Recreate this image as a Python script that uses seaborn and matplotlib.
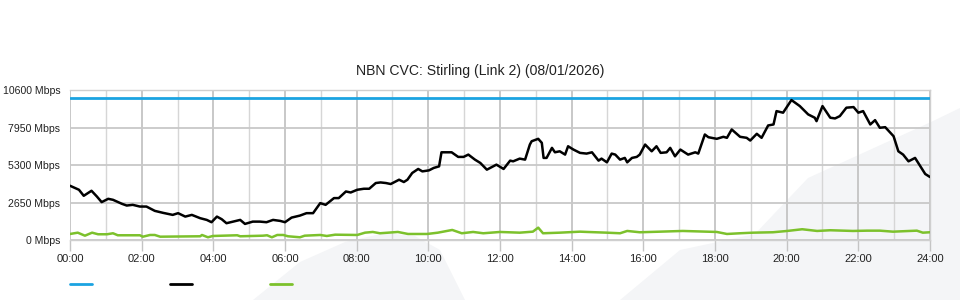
import matplotlib
matplotlib.use("Agg")
import matplotlib.pyplot as plt
from matplotlib.patches import Polygon
from matplotlib.ticker import MultipleLocator
from matplotlib.lines import Line2D
import seaborn as sns
import pandas as pd

# ---- data ----
title = "NBN CVC: Stirling (Link 2) (08/01/2026)"
y_ticks = [0, 2650, 5300, 7950, 10600]
y_tick_labels = ["0 Mbps", "2650 Mbps", "5300 Mbps", "7950 Mbps", "10600 Mbps"]
x_tick_labels = ["00:00", "02:00", "04:00", "06:00", "08:00", "10:00", "12:00",
                 "14:00", "16:00", "18:00", "20:00", "22:00", "24:00"]

capacity_min = [0, 1440]
capacity_mbps = [10000, 10000]

down_min = [0, 15, 23, 36, 45, 53, 64, 72, 87, 95, 105, 117, 128, 142, 156, 172, 181, 193,
            204, 218, 229, 237, 246, 254, 262, 273, 285, 293, 306, 318, 329, 340, 352, 360,
            371, 385, 396, 407, 419, 428, 442, 450, 462, 470, 481, 492, 501, 512, 520, 529,
            537, 551, 559, 565, 573, 583, 590, 601, 609, 618, 622, 639, 650, 659, 667, 678,
            687, 698, 714, 726, 737, 742, 753, 762, 770, 773, 784, 790, 793, 798, 807, 812,
            820, 829, 834, 843, 854, 865, 874, 885, 890, 899, 907, 913, 921, 929, 933, 941,
            949, 954, 963, 974, 982, 989, 999, 1005, 1013, 1022, 1035, 1047, 1052, 1063,
            1069, 1083, 1094, 1100, 1108, 1122, 1133, 1139, 1150, 1158, 1169, 1178, 1183,
            1194, 1208, 1222, 1236, 1247, 1250, 1260, 1273, 1281, 1289, 1300, 1312, 1320,
            1328, 1340, 1348, 1356, 1365, 1379, 1387, 1395, 1404, 1415, 1432, 1440]
down_mbps = [3834, 3550, 3124, 3479, 3074, 2677, 2911, 2840, 2556, 2435, 2485, 2364, 2364,
             2059, 1917, 1775, 1896, 1654, 1775, 1541, 1420, 1257, 1654, 1470, 1186, 1299,
             1420, 1136, 1299, 1299, 1257, 1420, 1349, 1257, 1583, 1725, 1896, 1896, 2606,
             2485, 2961, 2961, 3429, 3358, 3550, 3621, 3621, 4026, 4068, 4026, 3955, 4260,
             4097, 4260, 4736, 5020, 4849, 4920, 5091, 5204, 6198, 6198, 5872, 5872, 6035,
             5680, 5446, 4970, 5325, 5020, 5609, 5559, 5751, 5680, 6745, 6979, 7150, 6866,
             5801, 5801, 6511, 6198, 6269, 6035, 6624, 6390, 6156, 6106, 6198, 5609, 5751,
             5488, 6106, 6035, 5680, 5801, 5488, 5801, 5872, 6035, 6745, 6269, 6624, 6156,
             6198, 6511, 5914, 6390, 6035, 6198, 6106, 7455, 7263, 7150, 7292, 7221, 7810,
             7292, 7221, 7029, 7505, 7221, 8094, 8165, 9109, 8996, 9890, 9464, 8875, 8641,
             8399, 9464, 8641, 8591, 8754, 9350, 9393, 8996, 9109, 8165, 8470, 7931, 7973,
             7334, 6269, 6035, 5559, 5801, 4665, 4452]

up_min = [0, 13, 25, 37, 47, 62, 72, 80, 105, 117, 122, 134, 142, 151, 218, 221, 231, 239,
          280, 285, 323, 330, 338, 347, 357, 365, 385, 393, 419, 430, 444, 481, 494, 507,
          519, 549, 566, 598, 616, 640, 656, 675, 692, 720, 753, 775, 784, 792, 820, 854,
          866, 899, 921, 933, 954, 988, 1026, 1083, 1100, 1122, 1144, 1177, 1201, 1226,
          1251, 1273, 1311, 1335, 1356, 1378, 1418, 1428, 1440]
up_mbps = [426, 518, 305, 518, 405, 405, 476, 334, 334, 334, 234, 355, 355, 234, 263, 355,
           192, 284, 334, 263, 305, 334, 192, 355, 355, 263, 192, 305, 355, 284, 376, 355,
           518, 568, 476, 568, 426, 426, 518, 710, 476, 568, 476, 568, 518, 589, 873, 476,
           518, 589, 568, 518, 476, 639, 547, 589, 639, 568, 426, 476, 518, 547, 639, 760,
           639, 689, 639, 660, 660, 589, 660, 518, 547]

# ---- style ----
C_BLUE = "#1BA3E1"
C_BLACK = "#000000"
C_GREEN = "#7CC12C"
C_SHAPE = "#f4f5f7"

sns.set_theme(style="white")
plt.rcParams["font.family"] = ["Liberation Sans", "DejaVu Sans"]

fig = plt.figure(figsize=(9.6, 3.0), dpi=100)
fig.patch.set_facecolor("white")

# decorative background swooshes (figure pixel coords -> fraction)
def fp(pts):
    return [(x / 960, 1 - y / 300) for x, y in pts]

fig.patches.append(Polygon(fp([(253, 300), (300, 262), (345, 242), (385, 233), (415, 236),
                               (440, 250), (465, 300)]),
                           closed=True, transform=fig.transFigure, facecolor=C_SHAPE,
                           edgecolor="none", zorder=-5))
fig.patches.append(Polygon(fp([(620, 300), (680, 250), (755, 234), (808, 178), (931, 122),
                               (960, 108), (960, 300)]),
                           closed=True, transform=fig.transFigure, facecolor=C_SHAPE,
                           edgecolor="none", zorder=-5))

ax = fig.add_axes([70 / 960, 1 - 240 / 300, 860 / 960, 150 / 300])
ax.set_zorder(1)
ax.patch.set_alpha(0)

df_cap = pd.DataFrame({"hour": [m / 60 for m in capacity_min], "mbps": capacity_mbps})
df_down = pd.DataFrame({"hour": [m / 60 for m in down_min], "mbps": down_mbps})
df_up = pd.DataFrame({"hour": [m / 60 for m in up_min], "mbps": up_mbps})

sns.lineplot(data=df_cap, x="hour", y="mbps", ax=ax, color=C_BLUE, lw=2, zorder=4)
sns.lineplot(data=df_down, x="hour", y="mbps", ax=ax, color=C_BLACK, lw=1.8, zorder=5)
sns.lineplot(data=df_up, x="hour", y="mbps", ax=ax, color=C_GREEN, lw=1.8, zorder=4)

ax.set_xlim(0, 24)
ax.set_ylim(0, 10600)
ax.set_xlabel("")
ax.set_ylabel("")

ax.set_xticks(list(range(0, 25, 2)))
ax.set_xticklabels(x_tick_labels)
ax.xaxis.set_minor_locator(MultipleLocator(1))
ax.set_yticks(y_ticks)
ax.set_yticklabels(y_tick_labels)

ax.grid(True, which="major", axis="x", color="#c4c4c4", lw=1.3, zorder=1)
ax.grid(True, which="minor", axis="x", color="#d6d6d6", lw=1.0, zorder=1)
ax.grid(True, which="major", axis="y", color="#c8c8c8", lw=1.3, zorder=1)
ax.set_axisbelow(True)

ax.tick_params(axis="x", which="major", length=8, width=1, color="#c4c4c4", pad=2,
               labelsize=8, labelcolor="#222222", bottom=True)
ax.tick_params(axis="x", which="minor", length=0)
ax.tick_params(axis="y", length=0, pad=7, labelsize=7.6, labelcolor="#222222")

for s in ax.spines.values():
    s.set_color("#cfcfcf")
    s.set_linewidth(1)
ax.spines["left"].set_visible(False)

fig.text(480 / 960, 1 - 71 / 300, title, ha="center", va="center", fontsize=10.1,
         color="#222222")

handles = [Line2D([], [], color=C_BLUE, lw=2),
           Line2D([], [], color=C_BLACK, lw=2),
           Line2D([], [], color=C_GREEN, lw=2)]
fig.legend(handles, ["", "", ""], loc="center left", ncol=3,
           bbox_to_anchor=(70 / 960, 1 - 285 / 300), frameon=False, fontsize=8,
           handlelength=2.0, handletextpad=0, columnspacing=7.0, borderpad=0,
           borderaxespad=0)

fig.savefig("out.png", dpi=100, facecolor="white")
